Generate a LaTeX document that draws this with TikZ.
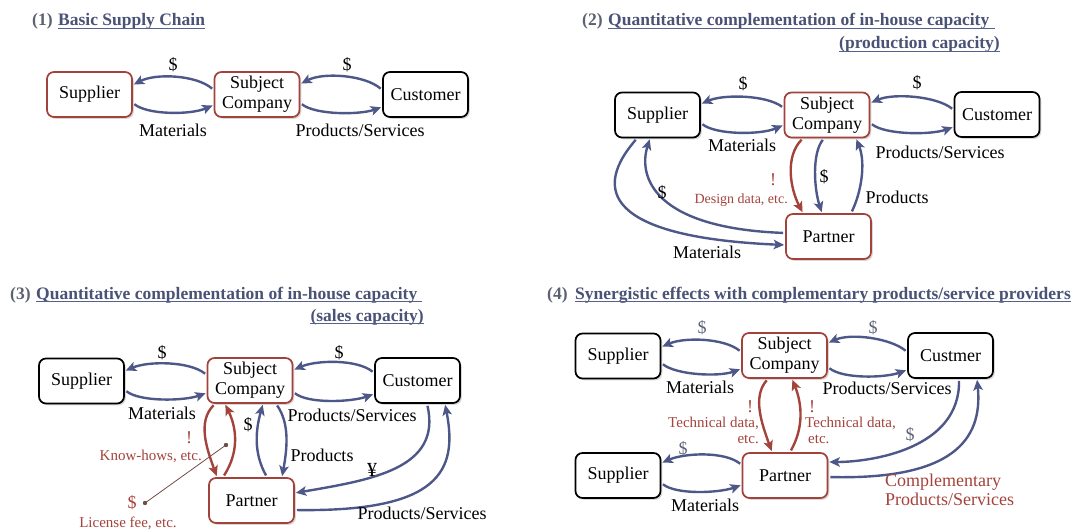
\documentclass[tikz,border=0pt]{standalone}
\usepackage{fontspec}
\setmainfont{Liberation Serif}
\usetikzlibrary{arrows.meta,shadows}
\definecolor{flowblue}{HTML}{4D5889}
\definecolor{flowred}{HTML}{A4433B}
\definecolor{boxred}{HTML}{A2423A}
\definecolor{titlegray}{HTML}{5C6170}
\definecolor{titleblue}{HTML}{4A5275}
\definecolor{ulblue}{HTML}{56608E}
\definecolor{leadercol}{HTML}{6E4E48}
\definecolor{dollargray}{HTML}{5E6478}
\tikzset{
  ent/.style={draw=black, line width=1.7pt, rounded corners=7pt, fill=white,
    minimum width=85pt, minimum height=45pt, inner sep=0pt, align=center,
    font=\fontsize{18}{20}\selectfont,
    drop shadow={shadow xshift=1.8pt, shadow yshift=-1.8pt, opacity=0.3}},
  redent/.style={ent, draw=boxred},
  flow/.style={draw=flowblue, line width=2.4pt,
    -{Stealth[length=10.5pt,width=9.5pt,inset=2.5pt]}, shorten <=2pt, shorten >=1pt},
  redflow/.style={flow, draw=flowred},
  lbl/.style={font=\fontsize{18}{20}\selectfont, inner sep=0pt},
  glbl/.style={lbl, text=dollargray},
  rlbl/.style={font=\fontsize{15}{16}\selectfont, text=flowred, inner sep=0pt},
  rbig/.style={font=\fontsize{18}{19}\selectfont, text=flowred, inner sep=0pt},
  ttl/.style={font=\bfseries\fontsize{17.5}{20}\selectfont, inner sep=0pt, anchor=base west},
  ul/.style={draw=ulblue, line width=0.9pt},
}
\begin{document}
\begin{tikzpicture}[x=1pt,y=-1pt]
\useasboundingbox[fill=white] (0,0) rectangle (1073,532);

% ---------------- Panel 1 ----------------
\node[ttl, text=titlegray] (n1) at (32,26) {(1)};
\node[ttl, text=titleblue] (t1) at (58,26) {Basic Supply Chain};
\draw[ul] ([yshift=-2.5pt]t1.base west) -- ([yshift=-2.5pt]t1.base east);

\node[redent] (sup1) at (89.5,94.5) {Supplier};
\node[redent] (sub1) at (257,94.5) {Subject\\Company};
\node[ent] (cus1) at (425.5,94.5) {Customer};

\draw[flow] ([yshift=4.5pt]sub1.west) .. controls +(-17,-15) and +(23,-12) .. ([yshift=9.5pt]sup1.east);
\draw[flow] ([yshift=-8.5pt]sup1.east) .. controls +(15,12) and +(-23,10) .. ([yshift=-10.5pt]sub1.west);
\draw[flow] ([yshift=4.5pt]cus1.west) .. controls +(-17,-15) and +(23,-12) .. ([yshift=10.5pt]sub1.east);
\draw[flow] ([yshift=-8.5pt]sub1.east) .. controls +(15,12) and +(-23,8) .. ([yshift=-12.5pt]cus1.west);

\node[lbl] (p1d1) at (173,65) {\$};
\node[lbl] (p1d2) at (347,65) {\$};
\node[lbl] (p1m) at (173,130) {Materials};
\node[lbl] (p1ps) at (360,130) {Products/Services};

% ---------------- Panel 2 ----------------
\node[ttl, text=titlegray] (n2) at (582,26) {(2)};
\node[ttl, text=titleblue] (t2a) at (608,26) {Quantitative complementation of in-house capacity};
\node[ttl, text=titleblue, anchor=base east] (t2b) at (1000,49) {(production capacity)};
\draw[ul] ([yshift=-2.5pt]t2a.base west) -- ([xshift=5pt,yshift=-2.5pt]t2a.base east);
\draw[ul] ([yshift=-2.5pt]t2b.base west) -- ([yshift=-2.5pt]t2b.base east);

\node[ent] (sup2) at (657.5,115) {Supplier};
\node[redent] (sub2) at (827,115) {Subject\\Company};
\node[ent] (cus2) at (997,114.5) {Customer};
\node[redent] (par2) at (828.5,236.5) {Partner};

\draw[flow] ([yshift=7pt]sub2.west) .. controls +(-17,-13) and +(23,-10) .. ([yshift=11pt]sup2.east);
\draw[flow] ([yshift=-8pt]sup2.east) .. controls +(15,12) and +(-23,10) .. ([yshift=-10pt]sub2.west);
\draw[flow] ([yshift=4.5pt]cus2.west) .. controls +(-17,-14) and +(23,-10) .. ([yshift=12pt]sub2.east);
\draw[flow] ([yshift=-8pt]sub2.east) .. controls +(15,12) and +(-23,8) .. ([yshift=-12.5pt]cus2.west);
\draw[redflow] ([xshift=-24pt]sub2.south) .. controls +(-18,18) and +(-13,-25) .. ([xshift=-25.5pt]par2.north);
\draw[flow] ([xshift=-3pt]sub2.south) .. controls +(-12,15) and +(-8,-25) .. ([xshift=-6.5pt]par2.north);
\draw[flow] ([xshift=22.5pt]par2.north) .. controls +(10,-20) and +(10,25) .. ([xshift=29pt]sub2.south);
\draw[flow] ([yshift=3.5pt]par2.west) .. controls +(-132,-5) and +(-12,38) .. ([xshift=-7.5pt]sup2.south);
\draw[flow] ([xshift=-20.5pt]sup2.south) .. controls +(-52,60) and +(-161,-7) .. ([yshift=-8.5pt]par2.west);

\node[lbl] (p2d1) at (743,84) {\$};
\node[lbl] (p2d2) at (917,83) {\$};
\node[lbl] (p2m) at (742,145) {Materials};
\node[lbl] (p2ps) at (940,152) {Products/Services};
\node[rbig] (p2ex) at (773,180) {!};
\node[rlbl, font=\fontsize{14}{15}\selectfont, anchor=east] (p2dd) at (788,200) {Design data, etc.};
\node[lbl] (p2d3) at (824,177) {\$};
\node[lbl] (p2pr) at (897,197) {Products};
\node[lbl] (p2d4) at (662,193) {\$};
\node[lbl] (p2m2) at (707,252) {Materials};

% ---------------- Panel 3 ----------------
\node[ttl, text=titlegray] (n3) at (10,299) {(3)};
\node[ttl, text=titleblue] (t3a) at (36,299) {Quantitative complementation of in-house capacity};
\node[ttl, text=titleblue, anchor=base east] (t3b) at (424,321) {(sales capacity)};
\draw[ul] ([yshift=-2.5pt]t3a.base west) -- ([xshift=5pt,yshift=-2.5pt]t3a.base east);
\draw[ul] ([yshift=-2.5pt]t3b.base west) -- ([yshift=-2.5pt]t3b.base east);

\node[ent] (sup3) at (81.5,381) {Supplier};
\node[redent] (sub3) at (250,380.5) {Subject\\Company};
\node[ent] (cus3) at (417.5,380.5) {Customer};
\node[redent] (par3) at (251.5,500.5) {Partner};

\draw[flow] ([yshift=5.5pt]sub3.west) .. controls +(-17,-14) and +(23,-10) .. ([yshift=10pt]sup3.east);
\draw[flow] ([yshift=-9pt]sup3.east) .. controls +(15,12) and +(-23,8) .. ([yshift=-12.5pt]sub3.west);
\draw[flow] ([yshift=7.5pt]cus3.west) .. controls +(-17,-14) and +(23,-10) .. ([yshift=10.5pt]sub3.east);
\draw[flow] ([yshift=-11.5pt]sub3.east) .. controls +(15,12) and +(-23,8) .. ([yshift=-13.5pt]cus3.west);
\draw[redflow] ([xshift=-35pt]sub3.south) .. controls +(-18,18) and +(-10,-28) .. ([xshift=-34.5pt]par3.north);
\draw[redflow] ([xshift=-28.5pt]par3.north) .. controls +(16,-25) and +(12,25) .. ([xshift=-25pt]sub3.south);
\draw[flow] ([xshift=15.5pt]par3.north) .. controls +(-14,-25) and +(-7,25) .. ([xshift=13pt]sub3.south);
\draw[flow] ([xshift=26pt]sub3.south) .. controls +(14,20) and +(5,-28) .. ([xshift=30.5pt]par3.north);
\draw[flow] ([xshift=9.5pt]cus3.south) .. controls +(15,65) and +(76,-13) .. ([yshift=7.5pt]par3.east);
\draw[flow] ([yshift=-9.5pt]par3.east) .. controls +(145,2) and +(13,67) .. ([xshift=27.5pt]cus3.south);

\coordinate (kh) at (226,445);
\coordinate (lf) at (145,503);
\draw[leadercol, line width=0.8pt] (kh) -- (lf);
\fill[leadercol] (kh) circle (2.2pt);
\fill[leadercol] (lf) circle (2.2pt);

\node[lbl] (p3d1) at (162,353) {\$};
\node[lbl] (p3d2) at (339,353) {\$};
\node[lbl] (p3m) at (162,413) {Materials};
\node[lbl] (p3ps) at (352,415) {Products/Services};
\node[rbig] (p3ex) at (189,438) {!};
\node[rlbl, anchor=east] (p3kh) at (202,456) {Know-hows, etc.};
\node[lbl] (p3d3) at (248,425) {\$};
\node[lbl] (p3pr) at (322,455) {Products};
\node[lbl, font=\fontsize{20}{20}\selectfont] (p3yen) at (372,470) {¥};
\node[lbl] (p3ps2) at (422,513) {Products/Services};
\node[rbig] (p3d4) at (132,503) {\$};
\node[rlbl] (p3lf) at (128,523) {License fee, etc.};

% ---------------- Panel 4 ----------------
\node[ttl, text=titlegray] (n4) at (547,299) {(4)};
\node[ttl, text=titleblue] (t4) at (575,299) {Synergistic effects with complementary products/service providers};
\draw[ul] ([yshift=-2.5pt]t4.base west) -- ([yshift=-2.5pt]t4.base east);

\node[ent] (sup4a) at (618,356) {Supplier};
\node[redent] (sub4) at (784.5,355.5) {Subject\\Company};
\node[ent] (cus4) at (950.5,355.5) {Custmer};
\node[ent] (sup4b) at (618,475.5) {Supplier};
\node[redent] (par4) at (785,475.5) {Partner};

\draw[flow] ([yshift=3.5pt]sub4.west) .. controls +(-17,-14) and +(23,-10) .. ([yshift=9pt]sup4a.east);
\draw[flow] ([yshift=-7pt]sup4a.east) .. controls +(15,12) and +(-23,8) .. ([yshift=-13.5pt]sub4.west);
\draw[flow] ([yshift=3.5pt]cus4.west) .. controls +(-17,-14) and +(23,-10) .. ([yshift=12.5pt]sub4.east);
\draw[flow] ([yshift=-11.5pt]sub4.east) .. controls +(15,12) and +(-23,8) .. ([yshift=-14.5pt]cus4.west);
\draw[redflow] ([xshift=-16.5pt]sub4.south) .. controls +(-16,18) and +(-10,-28) .. ([xshift=-13pt]par4.north);
\draw[redflow] ([xshift=5pt]par4.north) .. controls +(14,-25) and +(10,25) .. ([xshift=7.5pt]sub4.south);
\draw[flow] ([yshift=10.5pt]par4.west) .. controls +(-17,-14) and +(23,-10) .. ([yshift=12.5pt]sup4b.east);
\draw[flow] ([yshift=-7.5pt]sup4b.east) .. controls +(15,12) and +(-23,8) .. ([yshift=-9.5pt]par4.west);
\draw[flow] ([xshift=8.5pt]cus4.south) .. controls +(1,70) and +(43,0) .. ([yshift=13.5pt]par4.east);
\draw[flow] ([yshift=-1.5pt]par4.east) .. controls +(123,3) and +(6,62) .. ([xshift=26.5pt]cus4.south);

\node[glbl] (p4d1) at (702,328) {\$};
\node[glbl] (p4d2) at (873,328) {\$};
\node[lbl] (p4m) at (700,387) {Materials};
\node[lbl] (p4ps) at (887,388) {Products/Services};
\node[rbig] (p4ex1) at (750,407) {!};
\node[rlbl, anchor=east, align=right] (p4td1) at (759,430) {Technical data,\\etc.};
\node[rbig] (p4ex2) at (812,407) {!};
\node[rlbl, anchor=west, align=left] (p4td2) at (805,430) {Technical data,\\\hspace*{3pt}etc.};
\node[glbl] (p4d3) at (683,449) {\$};
\node[lbl] (p4m2) at (705,505) {Materials};
\node[glbl] (p4d4) at (910,435) {\$};
\node[rbig, anchor=west, align=left] (p4cps) at (885,490) {Complementary\\Products/Services};
\end{tikzpicture}
\end{document}
